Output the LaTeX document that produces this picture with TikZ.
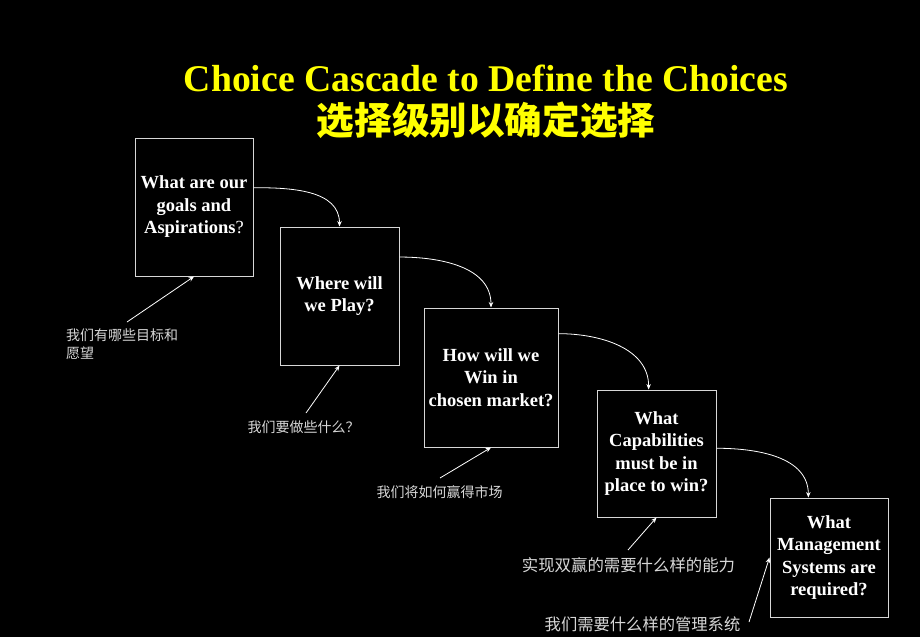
\documentclass[tikz,border=0pt]{standalone}
\usepackage{fontspec}
\setmainfont{Liberation Serif}
\newfontfamily\cjk{Noto Sans CJK SC}
\usetikzlibrary{arrows.meta, positioning}

\definecolor{titleyellow}{RGB}{255,255,0}
\definecolor{boxgray}{RGB}{215,215,215}
\definecolor{notegray}{RGB}{215,215,215}

\begin{document}
\begin{tikzpicture}[x=1pt, y=-1pt,
    question/.style={draw=boxgray, line width=1pt, fill=black, text=white,
      font=\fontsize{18.5}{22.5}\selectfont\bfseries, align=center, inner sep=0pt},
    note/.style={text=notegray, font=\cjk\fontsize{14}{18}\selectfont, inner sep=0pt},
    flow/.style={white, line width=0.8pt, -{Stealth[length=5.5pt, width=4.5pt]}}]
      % Background
      \fill[black] (0, 0) rectangle (920, 637);
      \useasboundingbox (0, 0) rectangle (920, 637);

      % Title
      \node[text=titleyellow, font=\fontsize{37.7}{40}\selectfont\bfseries] (title) at (486, 78) {Choice Cascade to Define the Choices};
      \node[text=titleyellow, font=\cjk\fontsize{37.6}{42}\selectfont\bfseries] (subtitle) at (486, 120) {选择级别以确定选择};

      % Question boxes
      \node[question, minimum width=118, minimum height=138] (goals) at (194, 207) {What are our\\goals and\\Aspirations{\mdseries ?}};
      \node[question, minimum width=119, minimum height=138] (play) at (339.5, 296) {Where will\\we Play?};
      \node[question, minimum width=134, minimum height=139] (win) at (491, 377.5) {How will we\\Win in\\chosen market?};
      \node[question, minimum width=119, minimum height=127] (capab) at (656.5, 453.5) {What\\Capabilities\\must be in\\place to win?};
      \node[question, minimum width=118, minimum height=119] (mgmt) at (829, 557.5) {What\\Management\\Systems are\\required?};

      % Chinese notes
      \node[note, anchor=west, align=left] (goalsnote) at (66, 344) {我们有哪些目标和\\愿望};
      \node[note] (playnote) at (303.5, 427) {我们要做些什么？};
      \node[note] (winnote) at (439.5, 492) {我们将如何赢得市场};
      \node[note, font=\cjk\fontsize{16.4}{18}\selectfont] (capabnote) at (628.5, 565) {实现双赢的需要什么样的能力};
      \node[note, font=\cjk\fontsize{16.3}{18}\selectfont] (mgmtnote) at (642.5, 624) {我们需要什么样的管理系统};

      % Cascade arrows
      \draw[flow] (goals.18) to[out=0, in=90] (play.north);
      \draw[flow] (play.33) to[out=0, in=90] (win.north);
      \draw[flow] (win.33) to[out=0, in=90] (capab.97);
      \draw[flow] (capab.5) to[out=0, in=90] (mgmt.109);

      % Note pointers
      \coordinate (t1) at (127, 322);
      \coordinate (t2) at (306, 413);
      \coordinate (t3) at (440, 478);
      \coordinate (t4) at (628, 550);
      \coordinate (t5) at (749, 622);
      \draw[flow] (t1) -- (goals.south);
      \draw[flow] (t2) -- (play.south);
      \draw[flow] (t3) -- (win.south);
      \draw[flow] (t4) -- (capab.south);
      \draw[flow] (t5) -- (mgmt.west);
  \end{tikzpicture}
\end{document}
